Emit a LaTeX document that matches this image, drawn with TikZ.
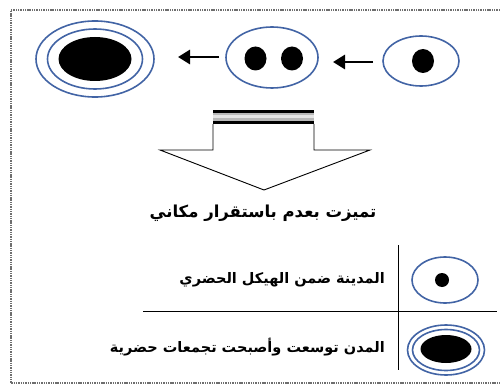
\documentclass[tikz,border=0pt]{standalone}
\usepackage{fontspec}
\usetikzlibrary{shapes.geometric,arrows.meta}
\newfontfamily\arabicfont[Script=Arabic]{DejaVu Sans}
\TeXXeTstate=1
\definecolor{ringblue}{RGB}{66,100,165}
\definecolor{framegray}{RGB}{110,110,110}
\tikzset{
  ring/.style={ellipse,draw=ringblue,line width=1.6pt,inner sep=0pt},
  blob/.style={ellipse,fill=black,inner sep=0pt},
  flowarrow/.style={line width=2.8pt,-{Triangle[length=12pt,width=14pt]}},
  gridline/.style={line width=1pt,black},
  artext/.style={inner sep=0pt,font=\arabicfont\bfseries}
}
\begin{document}
\begin{tikzpicture}[x=1pt,y=-1pt]
\useasboundingbox (0,0) rectangle (500,385);
% frame
\draw[framegray,line width=1.3pt,dash pattern=on 1.4pt off 0.9pt] (500,10) -- (11,10) -- (11,383) -- (500,383);
% big city
\node[ring,minimum width=118pt,minimum height=76pt] (bigout) at (95,59) {};
\node[ring,minimum width=95pt,minimum height=60pt] (bigmid) at (95,59) {};
\node[blob,minimum width=73pt,minimum height=44pt] (bigfill) at (95,59) {};
% middle
\node[ring,minimum width=92pt,minimum height=61pt] (mid) at (272,57.5) {};
\node[blob,minimum width=22pt,minimum height=24pt] (middot1) at (255.5,58.5) {};
\node[blob,minimum width=22pt,minimum height=24pt] (middot2) at (292,58.5) {};
% right
\node[ring,minimum width=76pt,minimum height=50pt] (small) at (421,61) {};
\node[blob,minimum width=22pt,minimum height=24pt] (smalldot) at (423,61) {};
% arrows
\coordinate (a1s) at (219,57);
\coordinate (a1e) at (178,57);
\coordinate (a2s) at (373,62);
\coordinate (a2e) at (333,62);
\draw[flowarrow] (a1s) -- (a1e);
\draw[flowarrow] (a2s) -- (a2e);
% block arrow
\draw[line width=0.9pt,fill=white] (213,124) -- (213,150) -- (160,150) -- (264,190) -- (370,150) -- (314,150) -- (314,124);
\fill[gray!55] (213,110) rectangle (314,124);
\fill[gray!20] (213,115.5) rectangle (314,118.5);
\draw[line width=2.2pt] (213,111.5) -- (314,111.5);
\draw[line width=2.2pt] (213,122.5) -- (314,122.5);
% title
\node[artext,font=\arabicfont\bfseries\fontsize{16.5}{19}\selectfont] (title) at (263,213) {\beginR تميزت بعدم باستقرار مكاني\endR};
% table
\coordinate (vtop) at (398,245);
\coordinate (vbot) at (398,370);
\coordinate (hl) at (143,311);
\coordinate (hr) at (497,311);
\draw[gridline] (vtop) -- (vbot);
\draw[gridline] (hl) -- (hr);
\node[ring,minimum width=66pt,minimum height=46pt] (r1ell) at (445,280) {};
\node[blob,minimum width=14pt,minimum height=14pt] (r1dot) at (442,280) {};
\node[ring,minimum width=77pt,minimum height=50pt] (r2out) at (446,350) {};
\node[ring,minimum width=67pt,minimum height=41pt] (r2in) at (446,350) {};
\node[blob,minimum width=51pt,minimum height=28pt] (r2fill) at (446,349) {};
\node[artext,anchor=east,font=\arabicfont\bfseries\fontsize{14.5}{17}\selectfont] (r1text) at (385,280) {\beginR المدينة ضمن الهيكل الحضري\endR};
\node[artext,anchor=east,font=\arabicfont\bfseries\fontsize{14.5}{17}\selectfont] (r2text) at (385,347) {\beginR المدن توسعت وأصبحت تجمعات حضرية\endR};
\end{tikzpicture}
\end{document}
